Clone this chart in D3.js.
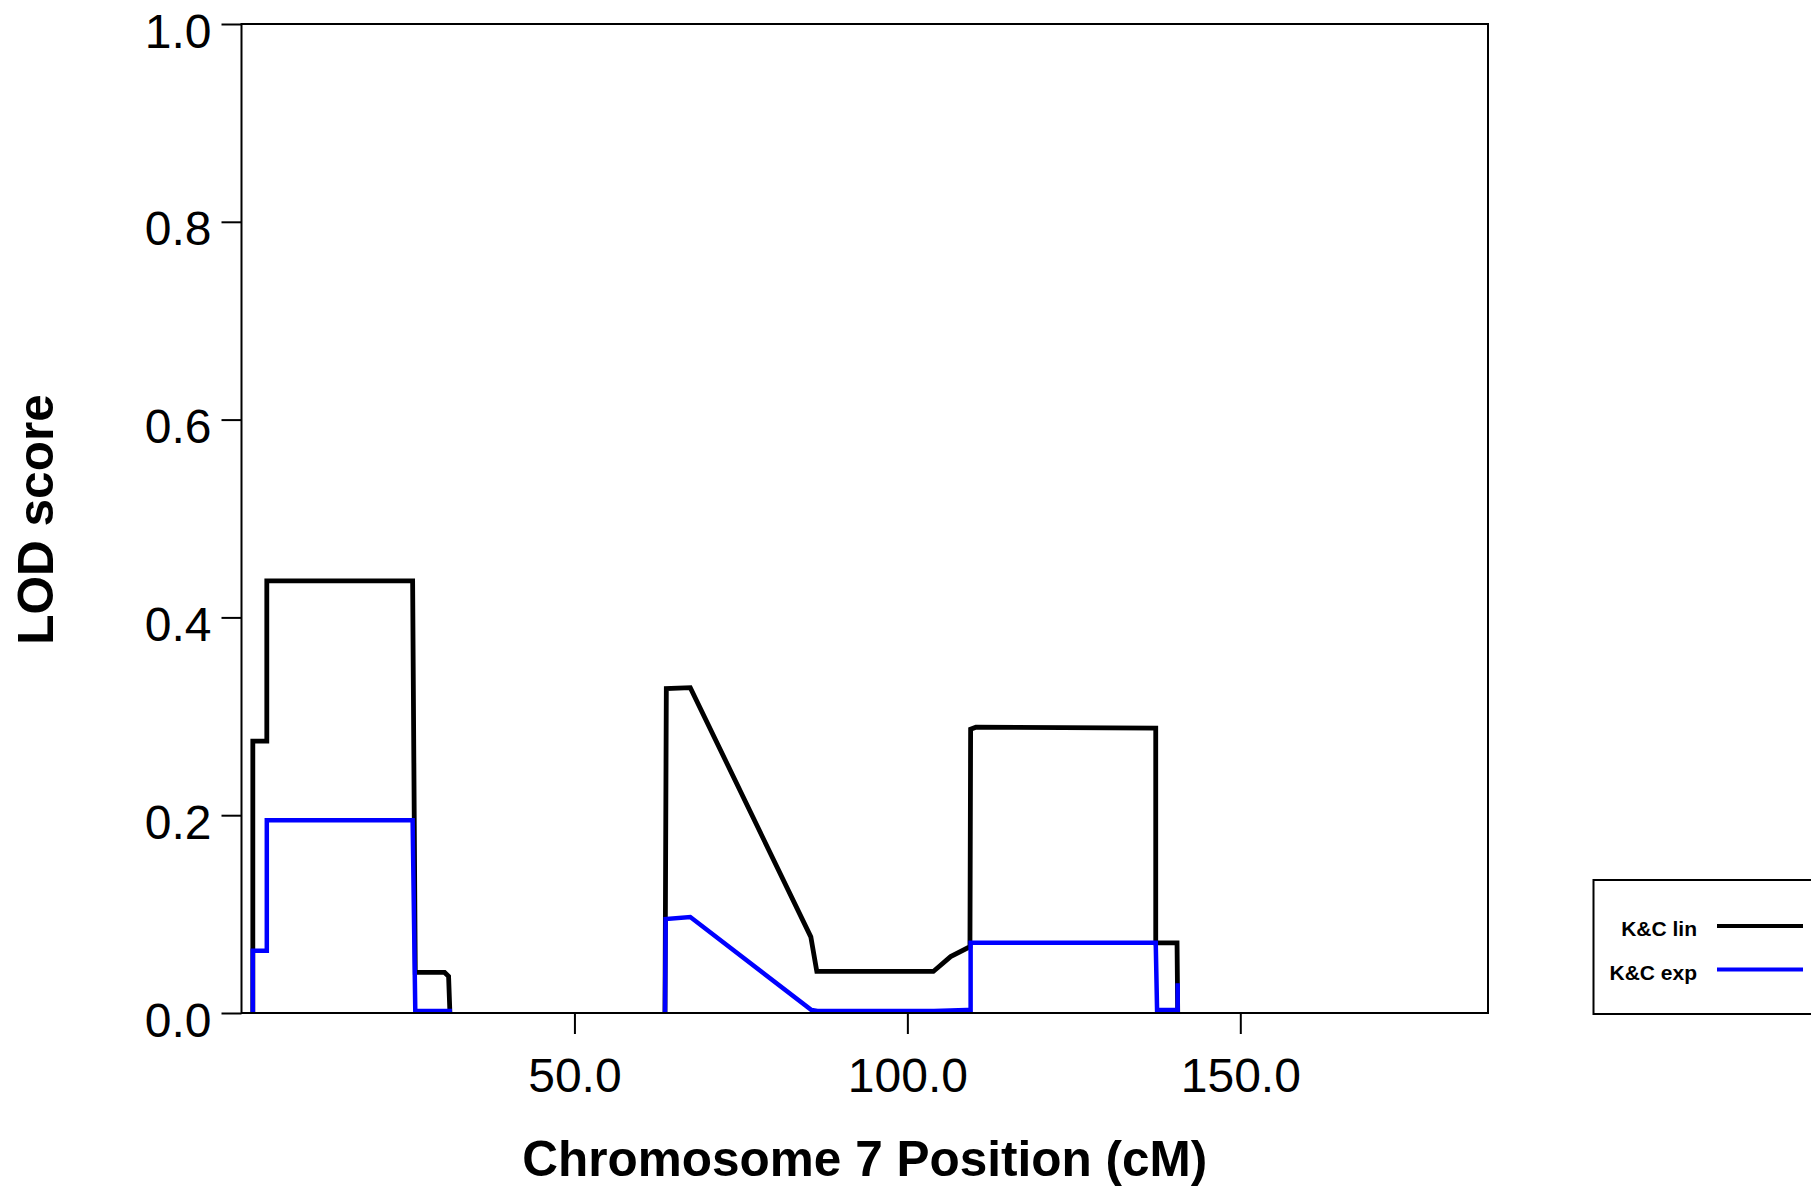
<!DOCTYPE html>
<html>
<head>
<meta charset="utf-8">
<script src="https://cdn.jsdelivr.net/npm/d3@7"></script>
<style>
  body { margin: 0; background: #fff; }
  svg { display: block; font-family: "Liberation Sans", Arial, sans-serif; }
  .tick text { font-size: 48px; fill: #000; }
  .tick line { stroke: #000; stroke-width: 2px; }
  .title { font-size: 49.5px; font-weight: bold; }
  .legend text { font-size: 21px; font-weight: bold; }
</style>
</head>
<body>
<svg width="1811" height="1188"></svg>
<script>
// K&C lin (black) - null breaks the line
const linPos = [1.7, 1.7, 3.8, 3.8, 25.7, 26.1, 30.5, 31.1, 31.3, null,
  63.6, 63.8, 67.4, 85.5, 86.4, 103.9, 106.5, 109.4, 109.5, 110.3, 137.3, 137.3, 140.5, 140.6];
const linLod = [0, 0.275, 0.275, 0.437, 0.437, 0.041, 0.041, 0.037, 0, null,
  0, 0.328, 0.329, 0.077, 0.042, 0.042, 0.057, 0.067, 0.287, 0.289, 0.288, 0.071, 0.071, 0];

// K&C exp (blue)
const expPos = [1.7, 1.7, 3.8, 3.8, 25.7, 26.1, 31.6, null,
  63.6, 63.7, 67.4, 85.6, 86.5, 104, 108.9, 109.5, 109.5, 137.3, 137.5, 140.6, 140.6];
const expLod = [0, 0.063, 0.063, 0.195, 0.195, 0.002, 0.002, null,
  0, 0.095, 0.097, 0.003, 0.002, 0.002, 0.003, 0.003, 0.071, 0.071, 0.003, 0.003, 0.03];

const xTicks = [50, 100, 150];
const yTicks = [0, 0.2, 0.4, 0.6, 0.8, 1.0];
const seriesNames = ['K&C lin', 'K&C exp'];
const seriesColors = ['#000000', '#0000ff'];

const svg = d3.select('svg');
const plotLeft = 241.5, plotTop = 24, plotRight = 1488, plotBottom = 1013;

const x = d3.scaleLinear().domain([0, 187.2]).range([plotLeft, plotRight]);
const y = d3.scaleLinear().domain([0, 1]).range([plotBottom, plotTop]);

const toPoints = (xs, ys) => xs.map((p, i) => ({ x: p, y: ys[i] }));
const line = d3.line()
  .defined(d => d.x !== null)
  .x(d => x(d.x))
  .y(d => y(d.y));

const series = [toPoints(linPos, linLod), toPoints(expPos, expLod)];

svg.selectAll('path.series')
  .data(series)
  .enter()
  .append('path')
  .attr('class', 'series')
  .attr('d', line)
  .attr('fill', 'none')
  .attr('stroke', (d, i) => seriesColors[i])
  .attr('stroke-width', (d, i) => i === 0 ? 4.8 : 4.5)
  .attr('stroke-linejoin', 'miter');

// axes
const yAxis = svg.append('g')
  .attr('transform', `translate(${plotLeft},0)`)
  .call(d3.axisLeft(y).tickValues(yTicks).tickFormat(d3.format('.1f')).tickSize(20).tickPadding(10));
yAxis.select('.domain').remove();
yAxis.selectAll('.tick text').attr('dy', '0.48em');

const xAxis = svg.append('g')
  .attr('transform', `translate(0,${plotBottom})`)
  .call(d3.axisBottom(x).tickValues(xTicks).tickFormat(d3.format('.1f')).tickSize(21).tickPadding(24));
xAxis.select('.domain').remove();

// plot frame
svg.append('rect')
  .attr('x', plotLeft)
  .attr('y', plotTop)
  .attr('width', plotRight - plotLeft)
  .attr('height', plotBottom - plotTop)
  .attr('fill', 'none')
  .attr('stroke', '#000')
  .attr('stroke-width', 2);

svg.append('text')
  .attr('class', 'title')
  .attr('x', (plotLeft + plotRight) / 2)
  .attr('y', 1176)
  .attr('text-anchor', 'middle')
  .text('Chromosome 7 Position (cM)');

svg.append('text')
  .attr('class', 'title')
  .attr('transform', `translate(53, ${(plotTop + plotBottom) / 2 + 1}) rotate(-90)`)
  .attr('text-anchor', 'middle')
  .text('LOD score');

// legend
const legend = svg.append('g').attr('class', 'legend');
legend.append('rect')
  .attr('x', 1593.5)
  .attr('y', 880)
  .attr('width', 240)
  .attr('height', 134)
  .attr('fill', '#fff')
  .attr('stroke', '#000')
  .attr('stroke-width', 2);

const legendRows = legend.selectAll('g.row')
  .data(seriesNames)
  .enter()
  .append('g')
  .attr('class', 'row')
  .attr('transform', (d, i) => `translate(0, ${926 + i * 43.6})`);

legendRows.append('text')
  .attr('x', 1697)
  .attr('y', 10)
  .attr('text-anchor', 'end')
  .text(d => d);

legendRows.append('line')
  .attr('x1', 1717)
  .attr('x2', 1803)
  .attr('stroke', (d, i) => seriesColors[i])
  .attr('stroke-width', 4);
</script>
</body>
</html>
